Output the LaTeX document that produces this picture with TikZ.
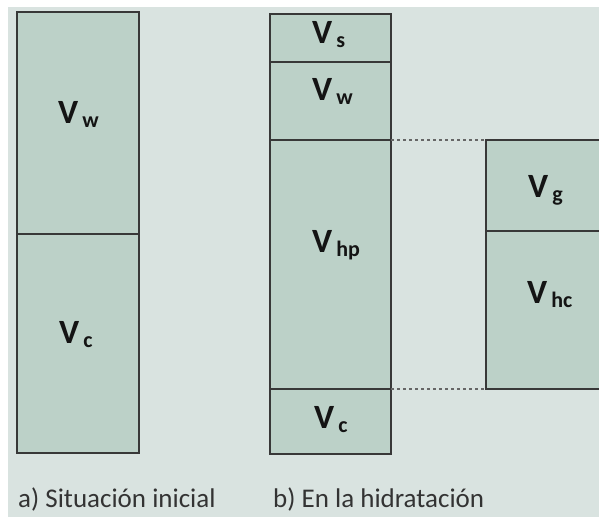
\documentclass[tikz,border=0pt]{standalone}
\usepackage{fontspec}
\setmainfont{Carlito}
\definecolor{bgc}{HTML}{D9E3E0}
\definecolor{cellc}{HTML}{BCD1C8}
\definecolor{linec}{HTML}{383838}
\definecolor{capc}{HTML}{333333}
\newcommand{\vlab}[1]{\bfseries\fontsize{34}{34}\selectfont V\hspace{4pt}\raisebox{-4pt}{\fontsize{22}{22}\selectfont #1}}
\tikzset{
  cell/.style={draw=linec, fill=cellc, line width=1.6pt, anchor=north west, inner sep=0pt, outer sep=0pt},
  vtext/.style={anchor=base west, inner sep=0pt, text=black!92},
  captext/.style={anchor=base west, inner sep=0pt, text=capc, font=\fontsize{27}{27}\selectfont},
  dotline/.style={draw=black!60, line width=1.6pt, dash pattern=on 3pt off 3pt}
}
\begin{document}
\begin{tikzpicture}[x=1pt,y=-1pt]
\useasboundingbox (0,0) rectangle (599,517);
\clip (0,0) rectangle (599,517);
\fill[white] (0,0) rectangle (599,517);
\fill[bgc] (8,7) rectangle (599,517);
% a) initial
\node[cell, minimum width=122pt, minimum height=222pt] (aw) at (17,12) {};
\node[cell, minimum width=122pt, minimum height=219pt] (ac) at (17,234) {};
% b) hydration
\node[cell, minimum width=121pt, minimum height=48pt] (bs) at (270,14) {};
\node[cell, minimum width=121pt, minimum height=78pt] (bw) at (270,62) {};
\node[cell, minimum width=121pt, minimum height=249pt] (bhp) at (270,140) {};
\node[cell, minimum width=121pt, minimum height=65pt] (bc) at (270,389) {};
% right column
\node[cell, minimum width=130pt, minimum height=91pt] (g) at (486,140) {};
\node[cell, minimum width=130pt, minimum height=158pt] (hc) at (486,231) {};
% dotted connectors
\draw[dotline] (bhp.north east) -- (g.north west);
\draw[dotline] (bhp.south east) -- (hc.south west);
% labels
\node[vtext] (law) at (58,123) {\vlab{w}};
\node[vtext] (lac) at (59,343) {\vlab{c}};
\node[vtext] (lbs) at (312,43) {\vlab{s}};
\node[vtext] (lbw) at (312,100) {\vlab{w}};
\node[vtext] (lbhp) at (312,252) {\vlab{hp}};
\node[vtext] (lbc) at (314,428) {\vlab{c}};
\node[vtext] (lg) at (528,197) {\vlab{g}};
\node[vtext] (lhc) at (527,303) {\vlab{hc}};
% captions
\node[captext] (capa) at (18,507) {a) Situación inicial};
\node[captext] (capb) at (273,507) {b) En la hidratación};
\end{tikzpicture}
\end{document}
